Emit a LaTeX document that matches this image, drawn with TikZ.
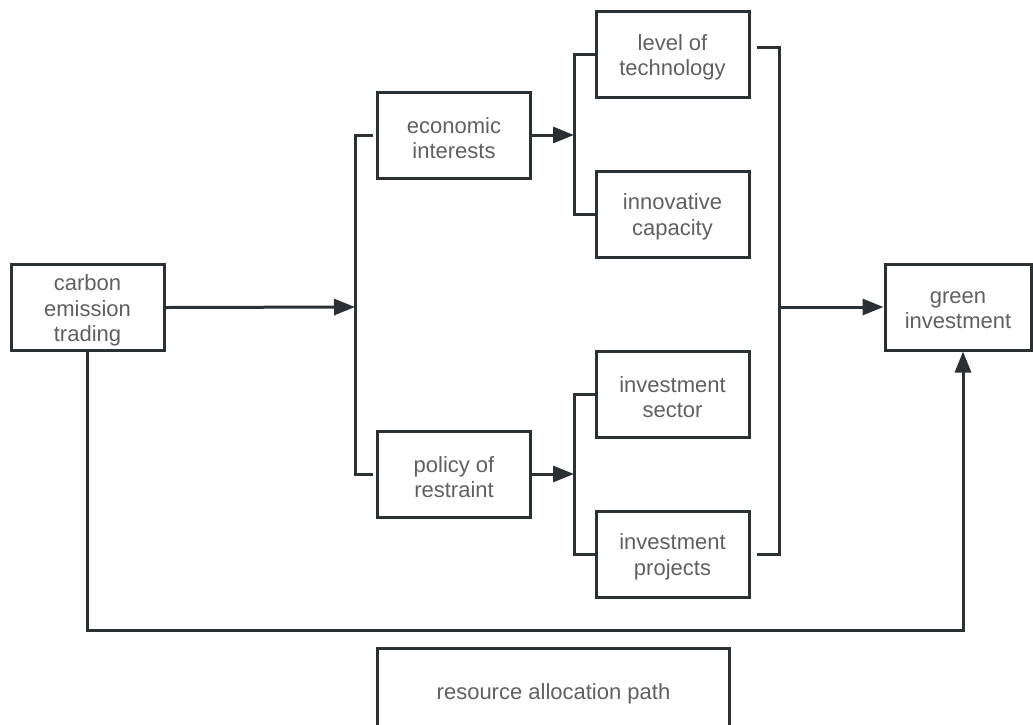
\documentclass[tikz,border=0pt]{standalone}
\usepackage{fontspec}
\setmainfont{Liberation Sans}
\usetikzlibrary{arrows.meta}
\definecolor{ln}{HTML}{2B3035}
\definecolor{tx}{HTML}{606060}
\begin{document}
\begin{tikzpicture}[x=1pt,y=-1pt,
  box/.style={draw=ln,line width=3pt,minimum width=153pt,minimum height=86pt,inner sep=0pt},
  txt/.style={align=center,text=tx,font=\fontsize{22}{25.5}\selectfont,inner sep=0pt,yshift=-3pt},
  conn/.style={draw=ln,line width=3pt},
  arr/.style={conn,-{Triangle[length=21pt,width=16pt]}}]
\useasboundingbox (0,0) rectangle (1033,724);
\fill[white] (0,0) rectangle (1033,724);
\node[box,label={[txt]center:carbon\\emission\\trading}] (carbon) at (87.5,307.5) {};
\node[box,label={[txt]center:economic\\interests}] (econ) at (454,135) {};
\node[box,label={[txt]center:policy of\\restraint}] (policy) at (454,474) {};
\node[box,label={[txt]center:level of\\technology}] (level) at (672.5,54.5) {};
\node[box,label={[txt]center:innovative\\capacity}] (innov) at (672.5,214) {};
\node[box,label={[txt]center:investment\\sector}] (sector) at (672.5,394) {};
\node[box,label={[txt]center:investment\\projects}] (projects) at (672.5,554) {};
\node[box,minimum width=146pt,label={[txt]center:green\\investment}] (green) at (958,307) {};
\node[box,minimum width=352pt,minimum height=88pt,label={[txt,yshift=1pt]center:resource allocation path}] (path) at (553.5,692) {};
\coordinate (bL) at (355,307);
\coordinate (bE) at (574,135);
\coordinate (bP) at (574,474);
\coordinate (bR) at (779,307);
\coordinate (bc) at (963,630);
\draw[arr] (carbon.east) -- (bL);
\draw[conn] ([xshift=-3pt]econ.west) -| (bL) |- ([xshift=-3pt]policy.west);
\draw[arr] (econ.east) -- (bE);
\draw[conn] (level.west) -| (bE) |- (innov.west);
\draw[arr] (policy.east) -- (bP);
\draw[conn] (sector.west) -| (bP) |- (projects.west);
\draw[conn] ([xshift=6pt,yshift=7pt]level.east) -| (bR) |- ([xshift=6pt]projects.east);
\draw[arr] (bR) -- (green.west);
\draw[arr] (carbon.south) |- (bc) -- ([xshift=5pt]green.south);
\end{tikzpicture}
\end{document}
